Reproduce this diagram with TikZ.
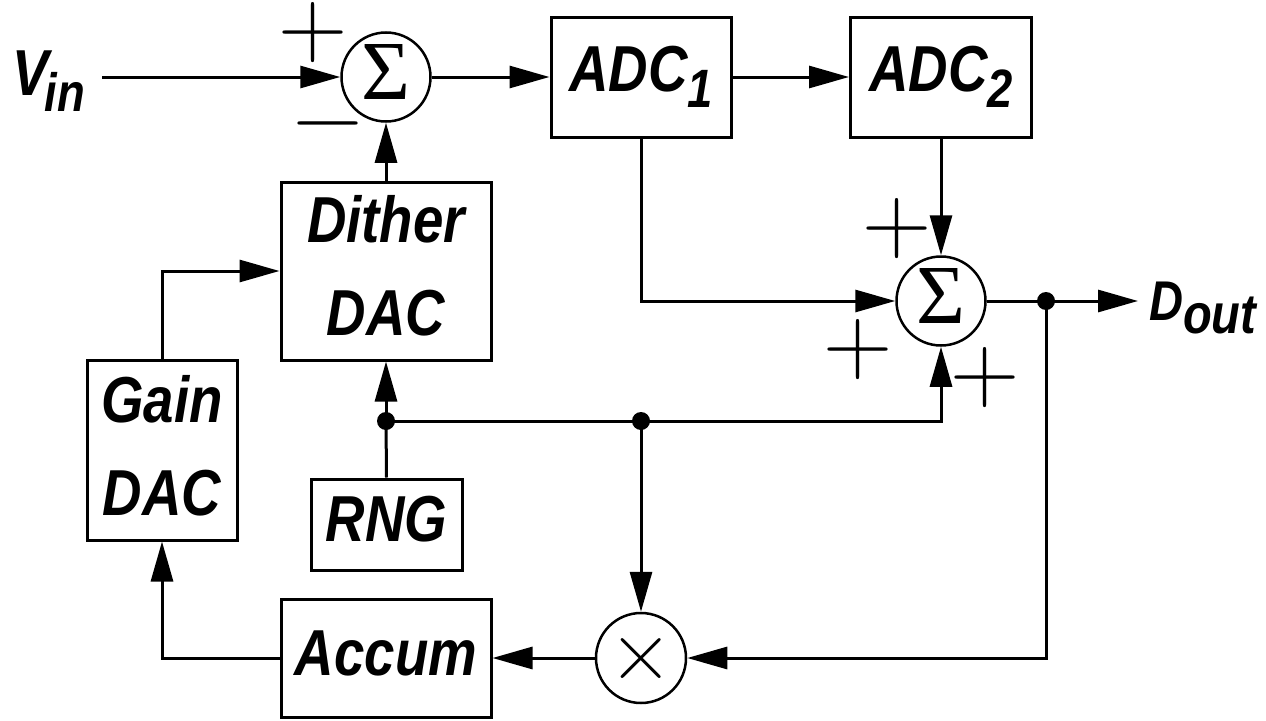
\documentclass[tikz,border=0pt]{standalone}
\usepackage{fontspec}
\newfontfamily\lblfont{Liberation Sans}[FakeStretch=0.84]
\newfontfamily\serfont{Liberation Serif}
\usetikzlibrary{arrows.meta}
\tikzset{
  blk/.style={draw, line width=3pt, rectangle, inner sep=0pt,
    font=\lblfont\bfseries\itshape\fontsize{65}{93}\selectfont, align=center},
  sumc/.style={draw, line width=2.5pt, circle, inner sep=0pt, minimum size=89pt,
    font=\serfont\fontsize{84}{84}\selectfont, text depth=10pt},
  conn/.style={line width=3pt},
  arr/.style={conn, -{Triangle[length=40pt,width=22pt]}},
  dotn/.style={circle, fill=black, inner sep=0pt, minimum size=18pt},
  sgn/.style={inner sep=0pt, font=\fontsize{96}{96}\selectfont, text height=48pt, text depth=0pt},
  io/.style={inner sep=0pt, anchor=base west, font=\lblfont\bfseries\itshape}
}
\begin{document}
\begin{tikzpicture}[x=1pt,y=-1pt]
\useasboundingbox (0,0) rectangle (1266,720);
% text I/O
\node[io, font=\lblfont\bfseries\itshape\fontsize{65}{65}\selectfont] (vin) at (12,95)
  {V\kern-4pt\raisebox{-16pt}{\fontsize{54}{54}\selectfont in}};
\node[io, font=\lblfont\bfseries\itshape\fontsize{56}{56}\selectfont] (dout) at (1149,320)
  {D\raisebox{-13pt}{\fontsize{56}{56}\selectfont out}};
\coordinate (vinL) at (102,77);
\coordinate (doutL) at (1138,301);
% blocks
\node[sumc] (s1) at (386,77) {Σ};
\node[blk, minimum width=180pt, minimum height=120pt] (adc1) at (641,77)
  {ADC\raisebox{-16pt}{\fontsize{54}{54}\selectfont 1}};
\node[blk, minimum width=181pt, minimum height=120pt] (adc2) at (941,77)
  {ADC\raisebox{-16pt}{\fontsize{54}{54}\selectfont 2}};
\node[blk, minimum width=210pt, minimum height=178pt, text depth=12pt] (dith) at (386,271)
  {Dither\\DAC};
\node[blk, minimum width=150pt, minimum height=180pt, text depth=10pt] (gain) at (162,450)
  {Gain\\DAC};
\node[blk, minimum width=151pt, minimum height=91pt, text depth=11pt] (rng) at (386.5,524.5)
  {RNG};
\node[blk, minimum width=210pt, minimum height=118pt, text depth=10pt] (acc) at (386,658)
  {Accum};
\node[sumc] (s2) at (941,301) {Σ};
\node[sumc, minimum size=90pt, font=\fontsize{88}{88}\selectfont, text height=44pt, text depth=0pt] (mult) at (641,658) {×};
% dots
\node[dotn] (d1) at (386,421) {};
\node[dotn] (d2) at (641,421) {};
\node[dotn] (d3) at (1046,301) {};
% signs
\node[sgn] (p1) at (313,32) {+};
\node[sgn] (m1) at (328,123) {−};
\node[sgn] (p2) at (897,228) {+};
\node[sgn] (p3) at (858,349) {+};
\node[sgn] (p4) at (985,377) {+};
% connectors
\draw[arr] (vinL) -- (s1.west);
\draw[arr] (s1.east) -- (adc1.west);
\draw[arr] (adc1.east) -- (adc2.west);
\draw[arr] (dith.north) -- (s1.south);
\draw[arr] (gain.north) |- (dith.west);
\draw[conn] (rng.north) -- (d1.center);
\draw[arr] (d1.center) -- (dith.south);
\draw[arr] (d1.center) -| (s2.south);
\draw[arr] (d2.center) -- (mult.north);
\draw[arr] (adc1.south) |- (s2.west);
\draw[arr] (adc2.south) -- (s2.north);
\draw[conn] (s2.east) -- (d3.center);
\draw[arr] (d3.center) -- (doutL);
\draw[arr] (d3.center) |- (mult.east);
\draw[arr] (mult.west) -- (acc.east);
\draw[arr] (acc.west) -| (gain.south);
\end{tikzpicture}
\end{document}
